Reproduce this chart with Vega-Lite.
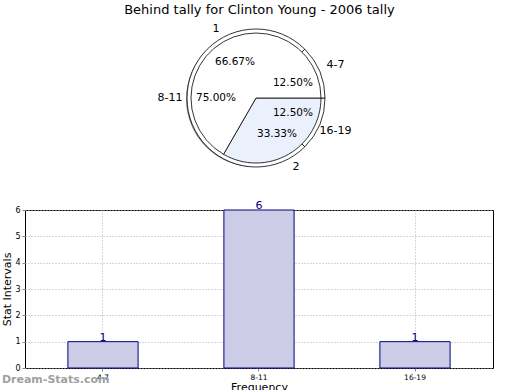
{
  "$schema": "https://vega.github.io/schema/vega-lite/v6.json",
  "padding": {"left": 1, "top": 3, "right": 0, "bottom": 0},
  "background": "white",
  "config": {"font": "DejaVu Sans", "view": {"stroke": "black"}},
  "title": {"text": "Behind tally for Clinton Young - 2006 tally", "fontSize": 13, "fontWeight": "normal", "anchor": "middle", "font": "DejaVu Sans", "color": "black", "offset": 6, "dx": 12},
  "spacing": 26,
  "vconcat": [
    {
      "width": 462,
      "height": 150,
      "view": {"stroke": null},
      "layer": [
        {
          "data": {"values": [
            {"interval": "16-19", "share": 0.125, "idx": 1},
            {"interval": "8-11", "share": 0.75, "idx": 2},
            {"interval": "4-7", "share": 0.125, "idx": 3}
          ]},
          "mark": {"type": "arc", "radius": 68, "fill": "#888888", "xOffset": -2, "yOffset": 1, "strokeWidth": 0},
          "encoding": {
            "theta": {"field": "share", "type": "quantitative", "stack": true, "scale": {"domain": [0, 1], "range": [1.5708, 7.854]}},
            "order": {"field": "idx"}
          }
        },
        {
          "data": {"values": [
            {"interval": "16-19", "share": 0.125, "idx": 1},
            {"interval": "8-11", "share": 0.75, "idx": 2},
            {"interval": "4-7", "share": 0.125, "idx": 3}
          ]},
          "mark": {"type": "arc", "radius": 69, "fill": "white", "stroke": "black", "strokeWidth": 0.8},
          "encoding": {
            "theta": {"field": "share", "type": "quantitative", "stack": true},
            "order": {"field": "idx"}
          }
        },
        {
          "data": {"values": [
            {"group": "2", "share": 0.3333, "idx": 1},
            {"group": "1", "share": 0.6667, "idx": 2}
          ]},
          "mark": {"type": "arc", "radius": 65, "stroke": "black", "strokeWidth": 0.8},
          "encoding": {
            "theta": {"field": "share", "type": "quantitative", "stack": true},
            "order": {"field": "idx"},
            "fill": {"field": "group", "type": "nominal", "scale": {"domain": ["1", "2"], "range": ["white", "#eaf0fc"]}, "legend": null}
          }
        },
        {
          "data": {"values": [
            {"interval": "16-19", "share": 0.125, "idx": 1},
            {"interval": "8-11", "share": 0.75, "idx": 2},
            {"interval": "4-7", "share": 0.125, "idx": 3}
          ]},
          "layer": [
            {
              "mark": {"type": "text", "radius": 86, "fontSize": 11, "color": "black"},
              "encoding": {
                "theta": {"field": "share", "type": "quantitative", "stack": true},
                "order": {"field": "idx"},
                "text": {"field": "interval"}
              }
            },
            {
              "mark": {"type": "text", "radius": 40, "fontSize": 10.5, "color": "black"},
              "encoding": {
                "theta": {"field": "share", "type": "quantitative", "stack": true},
                "order": {"field": "idx"},
                "text": {"field": "share", "type": "quantitative", "format": ".2%"}
              }
            }
          ]
        },
        {
          "data": {"values": [
            {"group": "2", "share": 0.3333, "idx": 1},
            {"group": "1", "share": 0.6667, "idx": 2}
          ]},
          "layer": [
            {
              "mark": {"type": "text", "radius": 80, "fontSize": 11, "color": "black"},
              "encoding": {
                "theta": {"field": "share", "type": "quantitative", "stack": true},
                "order": {"field": "idx"},
                "text": {"field": "group"}
              }
            },
            {
              "mark": {"type": "text", "radius": 42, "fontSize": 10.5, "color": "black"},
              "encoding": {
                "theta": {"field": "share", "type": "quantitative", "stack": true},
                "order": {"field": "idx"},
                "text": {"field": "share", "type": "quantitative", "format": ".2%"}
              }
            }
          ]
        }
      ]
    },
    {
      "width": 468,
      "height": 158,
      "title": {"text": "Dream-Stats.com", "orient": "bottom", "anchor": "start", "frame": "bounds", "fontSize": 11, "fontWeight": "bold", "color": "#a0a0a0", "offset": -19},
      "data": {"values": [
        {"interval": "4-7", "count": 1},
        {"interval": "8-11", "count": 6},
        {"interval": "16-19", "count": 1}
      ]},
      "encoding": {
        "x": {
          "field": "interval", "type": "nominal", "sort": null,
          "scale": {"paddingInner": 0.55, "paddingOuter": 0.275},
          "axis": {"title": "Frequency", "labelAngle": 0, "labelFontSize": 7.5, "titleFontSize": 11, "titleFontWeight": "normal", "grid": true, "gridDash": [1, 2], "gridColor": "#b0b0b0", "bandPosition": 0.5, "tickSize": 3, "tickColor": "#888", "domain": false, "labelPadding": 2, "titlePadding": 1, "labelColor": "black", "titleColor": "black"}
        },
        "y": {
          "field": "count", "type": "quantitative",
          "scale": {"domain": [0, 6]},
          "axis": {"title": "Stat Intervals", "values": [0, 1, 2, 3, 4, 5, 6], "labelFontSize": 8, "grid": true, "gridDash": [1, 2], "gridColor": "#b0b0b0", "domain": false, "tickSize": 3, "tickColor": "#888", "titleFontWeight": "normal", "titleFontSize": 11, "labelPadding": 2, "titlePadding": 2, "labelColor": "black", "titleColor": "black"}
        }
      },
      "layer": [
        {"mark": {"type": "bar", "fill": "#ccccE6", "stroke": "#000080", "strokeWidth": 1}},
        {"mark": {"type": "text", "baseline": "bottom", "dy": 1, "color": "#000080", "fontSize": 11}, "encoding": {"text": {"field": "count", "type": "quantitative"}}}
      ]
    }
  ]
}
